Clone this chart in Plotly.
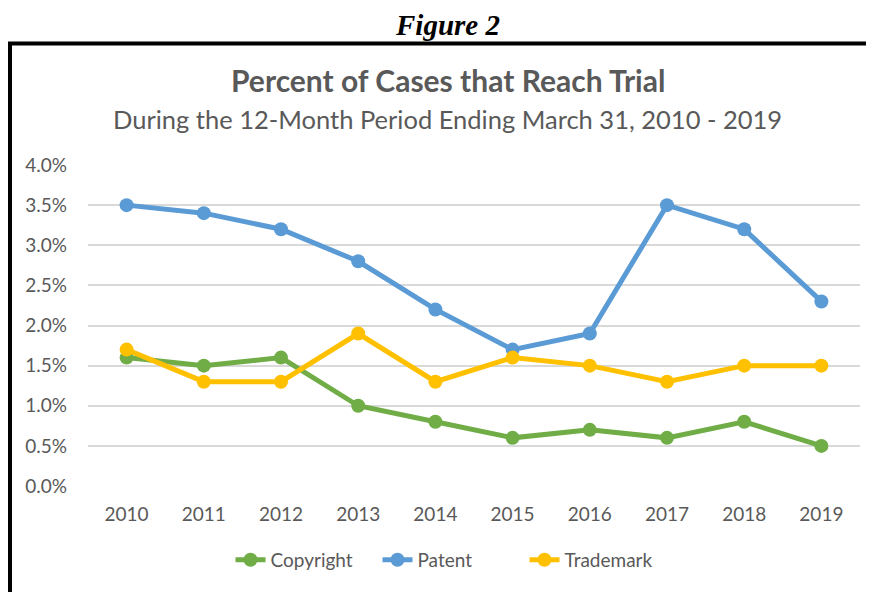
import plotly.graph_objects as go

years = ["2010", "2011", "2012", "2013", "2014", "2015", "2016", "2017", "2018", "2019"]
copyright_pct = [1.6, 1.5, 1.6, 1.0, 0.8, 0.6, 0.7, 0.6, 0.8, 0.5]
patent_pct = [3.5, 3.4, 3.2, 2.8, 2.2, 1.7, 1.9, 3.5, 3.2, 2.3]
trademark_pct = [1.7, 1.3, 1.3, 1.9, 1.3, 1.6, 1.5, 1.3, 1.5, 1.5]
y_ticks = [0.0, 0.5, 1.0, 1.5, 2.0, 2.5, 3.0, 3.5, 4.0]
y_tick_labels = ["0.0%", "0.5%", "1.0%", "1.5%", "2.0%", "2.5%", "3.0%", "3.5%", "4.0%"]

series = [
    ("Copyright", copyright_pct, "#70AD47"),
    ("Patent", patent_pct, "#5B9BD5"),
    ("Trademark", trademark_pct, "#FFC000"),
]

fig = go.Figure()
for name, vals, color in series:
    fig.add_trace(go.Scatter(
        x=years, y=vals, name=name, mode="lines+markers",
        line=dict(color=color, width=5),
        marker=dict(color=color, size=14),
    ))

font_main = "Lato, 'Open Sans', sans-serif"
gray = "#595959"

# page body has an 8px margin, so offsets are compensated here
fig.update_layout(
    width=874, height=592,
    margin=dict(l=80, r=22, t=157, b=114),
    paper_bgcolor="white", plot_bgcolor="white",
    font=dict(family=font_main, color=gray, size=19),
    showlegend=True,
    legend=dict(orientation="h", x=(451-88)/772, xanchor="center", y=-0.23, yanchor="middle",
                font=dict(size=19, color=gray), traceorder="normal",
                entrywidth=102, entrywidthmode="pixels"),
    xaxis=dict(type="category", range=[-0.5, 9.5], showgrid=False, showline=False,
               ticks="", tickfont=dict(size=19, color=gray), fixedrange=True,
               ticklabelstandoff=15),
    yaxis=dict(range=[0, 4.0], tickvals=y_ticks, ticktext=y_tick_labels,
               showgrid=True, gridcolor="#D9D9D9", gridwidth=1.5, zeroline=False,
               showline=False, ticks="", tickfont=dict(size=19, color=gray), ticklabelstandoff=20),
    shapes=[dict(type="rect", xref="paper", yref="paper", x0=(10-88)/772, x1=1.04,
                 y0=-0.5, y1=(486-43.5)/321,
                 line=dict(color="black", width=4), layer="below")],
    annotations=[
        dict(text="<b><i>Figure 2</i></b>", xref="paper", yref="paper", x=(447-88)/772, y=(486-25.5)/321,
             showarrow=False, xanchor="center", yanchor="middle",
             font=dict(family="'Liberation Serif', 'Times New Roman', serif", size=29, color="black")),
        dict(text="<b>Percent of Cases that Reach Trial</b>", xref="paper", yref="paper",
             x=(448-88)/772, y=(486-80)/321, showarrow=False, xanchor="center", yanchor="middle",
             font=dict(size=30, color=gray)),
        dict(text="During the 12-Month Period Ending March 31, 2010 - 2019", xref="paper", yref="paper",
             x=(447-88)/772, y=(486-119)/321, showarrow=False, xanchor="center", yanchor="middle",
             font=dict(size=25.5, color=gray)),
    ],
)

fig.write_html("out.html")
